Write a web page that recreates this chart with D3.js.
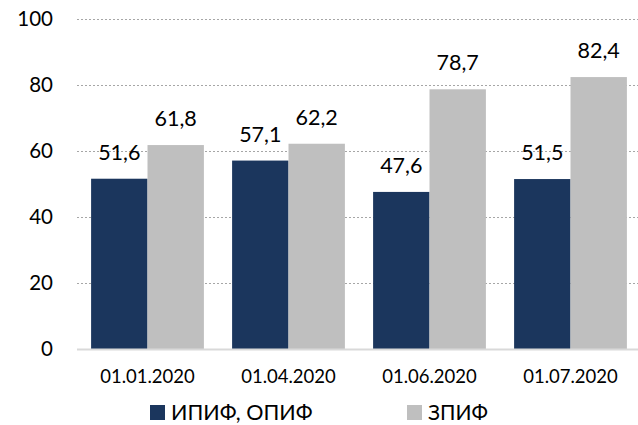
<!DOCTYPE html>
<html><head><meta charset="utf-8">
<script src="https://cdn.jsdelivr.net/npm/d3@7"></script>
<style>body{margin:0;background:#fff}svg{font-family:Lato,"Open Sans",sans-serif}</style>
</head><body>
<svg id="c" width="638" height="425"></svg>
<script>
const categories = ["01.01.2020","01.04.2020","01.06.2020","01.07.2020"];
const seriesNames = ["ИПИФ, ОПИФ","ЗПИФ"];
const ipif = [51.6, 57.1, 47.6, 51.5];
const zpif = [61.8, 62.2, 78.7, 82.4];
const yTicks = [0,20,40,60,80,100];
const colors = ["#1b365d","#bfbfbf"];

const svg = d3.select("#c");
const mLeft = 77, mRight = 641, mTop = 19, mBottom = 349;
const x = d3.scaleBand().domain(categories).range([mLeft, mRight]).paddingInner(0.2).paddingOuter(0.1);
const x1 = d3.scaleBand().domain(seriesNames).range([0, x.bandwidth()]);
const y = d3.scaleLinear().domain([0,100]).range([mBottom, mTop]);
const fmt = v => d3.format(".1f")(v).replace(".", ",");

// gridlines
svg.append("g").selectAll("line").data(yTicks.filter(t=>t>0)).join("line")
  .attr("x1", mLeft).attr("x2", 638).attr("y1", d=>y(d)+0.5).attr("y2", d=>y(d)+0.5)
  .attr("stroke", "#a6a6a6").attr("stroke-width", 1).attr("stroke-dasharray", "2,2");

// y axis labels
const yAxis = svg.append("g").attr("transform", `translate(53,0)`)
  .call(d3.axisLeft(y).tickValues(yTicks).tickSize(0).tickPadding(0));
yAxis.select(".domain").remove();
yAxis.selectAll("text").attr("font-size", 20.5).attr("fill", "#000").attr("font-family", "Lato,'Open Sans',sans-serif");

const data = categories.map((c,i)=>({c, vals:[ipif[i], zpif[i]]}));
const g = svg.append("g").selectAll("g").data(data).join("g")
  .attr("transform", d=>`translate(${x(d.c)},0)`);
g.selectAll("rect").data(d=>d.vals.map((v,j)=>({v, s:seriesNames[j], j}))).join("rect")
  .attr("x", d=>x1(d.s)).attr("width", x1.bandwidth())
  .attr("y", d=>y(d.v)).attr("height", d=>y(0)-y(d.v))
  .attr("fill", d=>colors[d.j]);
g.selectAll("text").data(d=>d.vals.map((v,j)=>({v, s:seriesNames[j], j}))).join("text")
  .attr("x", d=>x1(d.s)+x1.bandwidth()/2).attr("y", d=>y(d.v)-19)
  .attr("text-anchor","middle").attr("font-size", 21.5).attr("fill","#000")
  .text(d=>fmt(d.v));

// x axis
svg.append("line").attr("x1", mLeft).attr("x2", 638).attr("y1", mBottom+0.5).attr("y2", mBottom+0.5)
  .attr("stroke", "#d9d9d9").attr("stroke-width", 2);
const xAxis = svg.append("g").attr("transform", `translate(0,${mBottom})`)
  .call(d3.axisBottom(x).tickSize(0).tickPadding(21));
xAxis.select(".domain").remove();
xAxis.selectAll("text").attr("font-size", 18.5).attr("fill","#000").attr("font-family", "Lato,'Open Sans',sans-serif");

// legend
const leg = [{n:seriesNames[0], c:colors[0], x:150, fs:21.5},{n:seriesNames[1], c:colors[1], x:407, fs:21}];
const lg = svg.append("g").selectAll("g").data(leg).join("g").attr("transform", d=>`translate(${d.x},404)`);
lg.append("rect").attr("width", 15).attr("height", 15).attr("y", 1).attr("fill", d=>d.c);
lg.append("text").attr("x", 21).attr("y", 16).attr("font-size", d=>d.fs).attr("fill","#000").text(d=>d.n);
</script>
</body></html>
